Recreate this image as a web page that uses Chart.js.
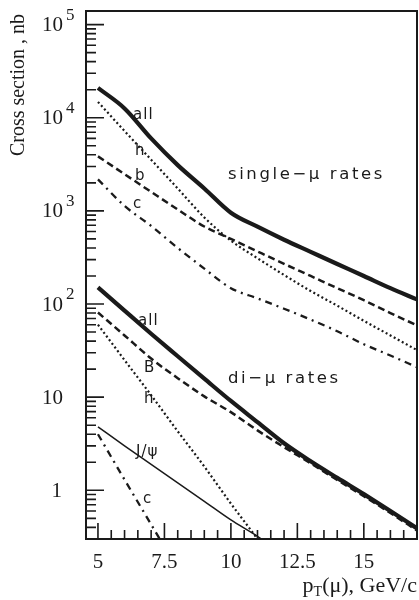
<!DOCTYPE html>
<html>
<head>
<meta charset="utf-8">
<script src="https://cdn.jsdelivr.net/npm/chart.js@4/dist/chart.umd.min.js"></script>
<style>
  html, body { margin: 0; padding: 0; background: #fff; }
  canvas { display: block; }
</style>
</head>
<body>
<canvas id="rates" width="419" height="600"></canvas>
<script>
// transverse momentum of the muon, GeV/c
const pt = [5, 6, 7, 8, 9, 10, 11, 12, 13, 14, 15, 16, 17];

// single-mu cross sections, nb
const singleAll = [20900, 12600, 6000, 3100, 1740, 955, 676, 490, 363, 269, 200, 148, 112];
const singleH = [14800, 7200, 3550, 1740, 850, 480, 310, 205, 138, 96, 66, 46, 32];
const singleB = [3850, 2480, 1600, 1035, 680, 500, 367, 270, 200, 148, 110, 80, 59];
const singleC = [2180, 1130, 690, 400, 240, 148, 115, 89, 68, 51, 37, 28, 21];

// di-mu cross sections, nb
const diAll = [151, 85, 48, 27.5, 15.8, 9.1, 5.4, 3.2, 2.05, 1.36, 0.91, 0.6, 0.39];
const diB = [81, 46, 26, 16, 10.2, 6.9, 4.4, 2.9, 1.95, 1.29, 0.865, 0.57, 0.37];
const diH = [60, 25, 10.5, 4.3, 1.8, 0.72, 0.30, 0.12, null, null, null, null, null];
const diJpsi = [4.8, 3.0, 1.9, 1.2, 0.76, 0.48, 0.32, 0.2, null, null, null, null, null];
const diC = [4.0, 1.3, 0.43, 0.14, null, null, null, null, null, null, null, null, null];

// axis ticks
const xMajor = [5, 7.5, 10, 12.5, 15];
const yDecades = [5, 4, 3, 2, 1, 0];

const ink = '#1a1a1a';
const serif = '"Liberation Serif", "DejaVu Serif", serif';
const sans = '"DejaVu Sans", sans-serif';

function series(values, style) {
  return Object.assign({
    data: values.map((v, i) => ({ x: pt[i], y: v })),
    borderColor: ink,
    pointRadius: 0,
    fill: false,
    spanGaps: false,
    cubicInterpolationMode: 'monotone',
    borderCapStyle: 'butt'
  }, style);
}

const thick = { borderWidth: 4.2 };
const dashed = { borderWidth: 2.5, borderDash: [7, 4] };
const dotted = { borderWidth: 2.2, borderDash: [2, 2.6] };
const dashDot = { borderWidth: 2.3, borderDash: [7, 5, 2, 5] };
const thin = { borderWidth: 1.5 };

// text labels placed in data coordinates
const curveLabels = [
  { text: 'all', x: 6.32, y: 9700 },
  { text: 'h', x: 6.39, y: 4000 },
  { text: 'b', x: 6.39, y: 2150 },
  { text: 'c', x: 6.32, y: 1080 },
  { text: 'all', x: 6.51, y: 60 },
  { text: 'B', x: 6.73, y: 18.7 },
  { text: 'h', x: 6.73, y: 8.7 },
  { text: 'J/ψ', x: 6.43, y: 2.34 },
  { text: 'c', x: 6.69, y: 0.73 }
];
const groupLabels = [
  { text: 'single−μ rates', x: 9.89, y: 2200 },
  { text: 'di−μ rates', x: 9.89, y: 14.2 }
];

const paperAxes = {
  id: 'paperAxes',
  afterDraw(chart) {
    const { ctx, chartArea: a, scales: { x, y } } = chart;
    ctx.save();
    ctx.strokeStyle = ink;
    ctx.fillStyle = ink;

    // y ticks, drawn inward from the left edge
    ctx.lineWidth = 1.6;
    ctx.beginPath();
    for (let e = -1; e <= 5; e++) {
      for (let m = 1; m <= 9; m++) {
        const v = m * Math.pow(10, e);
        if (v < y.min || v > y.max) continue;
        const py = y.getPixelForValue(v);
        const len = m === 1 ? 18 : 10;
        ctx.moveTo(a.left, py);
        ctx.lineTo(a.left + len, py);
      }
    }
    // x ticks, drawn upward from the bottom edge
    for (let v = 4.5; v <= x.max + 0.001; v += 0.5) {
      if (v < x.min) continue;
      const px = x.getPixelForValue(v);
      const len = xMajor.includes(v) ? 16 : 9;
      ctx.moveTo(px, a.bottom);
      ctx.lineTo(px, a.bottom - len);
    }
    ctx.stroke();

    // frame
    ctx.lineWidth = 2;
    ctx.strokeRect(a.left, a.top, a.width, a.height);

    // y tick labels
    ctx.textBaseline = 'middle';
    yDecades.forEach(e => {
      const py = y.getPixelForValue(Math.pow(10, e));
      ctx.font = '21px ' + serif;
      ctx.textAlign = 'right';
      if (e === 0) {
        ctx.fillText('1', 62, py + 1);
      } else {
        ctx.fillText('10', 63, py + 1);
        if (e > 1) {
          ctx.font = '17px ' + serif;
          ctx.textAlign = 'left';
          ctx.fillText(String(e), 66, py - 9);
        }
      }
    });

    // x tick labels
    ctx.font = '21px ' + serif;
    ctx.textAlign = 'center';
    ctx.textBaseline = 'alphabetic';
    xMajor.forEach(v => {
      ctx.fillText(String(v), x.getPixelForValue(v), 568);
    });

    // x title: p_T(mu), GeV/c, right aligned to the frame
    const main = '(μ), GeV/c';
    ctx.font = '22px ' + serif;
    const wMain = ctx.measureText(main).width;
    const wP = ctx.measureText('p').width;
    ctx.font = '14px ' + serif;
    const wT = ctx.measureText('T').width;
    let px = a.right - wMain - wT - wP;
    ctx.textAlign = 'left';
    ctx.font = '22px ' + serif;
    ctx.fillText('p', px, 592);
    ctx.font = '14px ' + serif;
    ctx.fillText('T', px + wP, 596);
    ctx.font = '22px ' + serif;
    ctx.fillText(main, px + wP + wT, 592);

    // y title
    ctx.save();
    ctx.translate(19, 85);
    ctx.rotate(-Math.PI / 2);
    ctx.textAlign = 'center';
    ctx.textBaseline = 'middle';
    ctx.font = '20px ' + serif;
    ctx.fillText('Cross section , nb', 0, 0);
    ctx.restore();

    // curve labels
    ctx.textAlign = 'left';
    ctx.textBaseline = 'alphabetic';
    ctx.font = '15px ' + sans;
    ctx.letterSpacing = '1px';
    curveLabels.forEach(l => {
      ctx.fillText(l.text, x.getPixelForValue(l.x), y.getPixelForValue(l.y));
    });
    ctx.font = '16.5px ' + sans;
    ctx.letterSpacing = '2.6px';
    groupLabels.forEach(l => {
      ctx.fillText(l.text, x.getPixelForValue(l.x), y.getPixelForValue(l.y));
    });
    ctx.restore();
  }
};

new Chart(document.getElementById('rates'), {
  type: 'line',
  data: {
    datasets: [
      series(singleAll, thick),
      series(diAll, thick),
      series(singleH, dotted),
      series(singleB, dashed),
      series(singleC, dashDot),
      series(diB, dashed),
      series(diH, dotted),
      series(diJpsi, thin),
      series(diC, dashDot)
    ]
  },
  options: {
    responsive: false,
    animation: false,
    layout: { padding: { left: 86, top: 11, right: 2, bottom: 61 } },
    plugins: { legend: { display: false }, tooltip: { enabled: false } },
    scales: {
      x: { type: 'linear', min: 4.55, max: 17, display: false },
      y: { type: 'logarithmic', min: 0.3, max: 140000, display: false }
    }
  },
  plugins: [paperAxes]
});
</script>
</body>
</html>
